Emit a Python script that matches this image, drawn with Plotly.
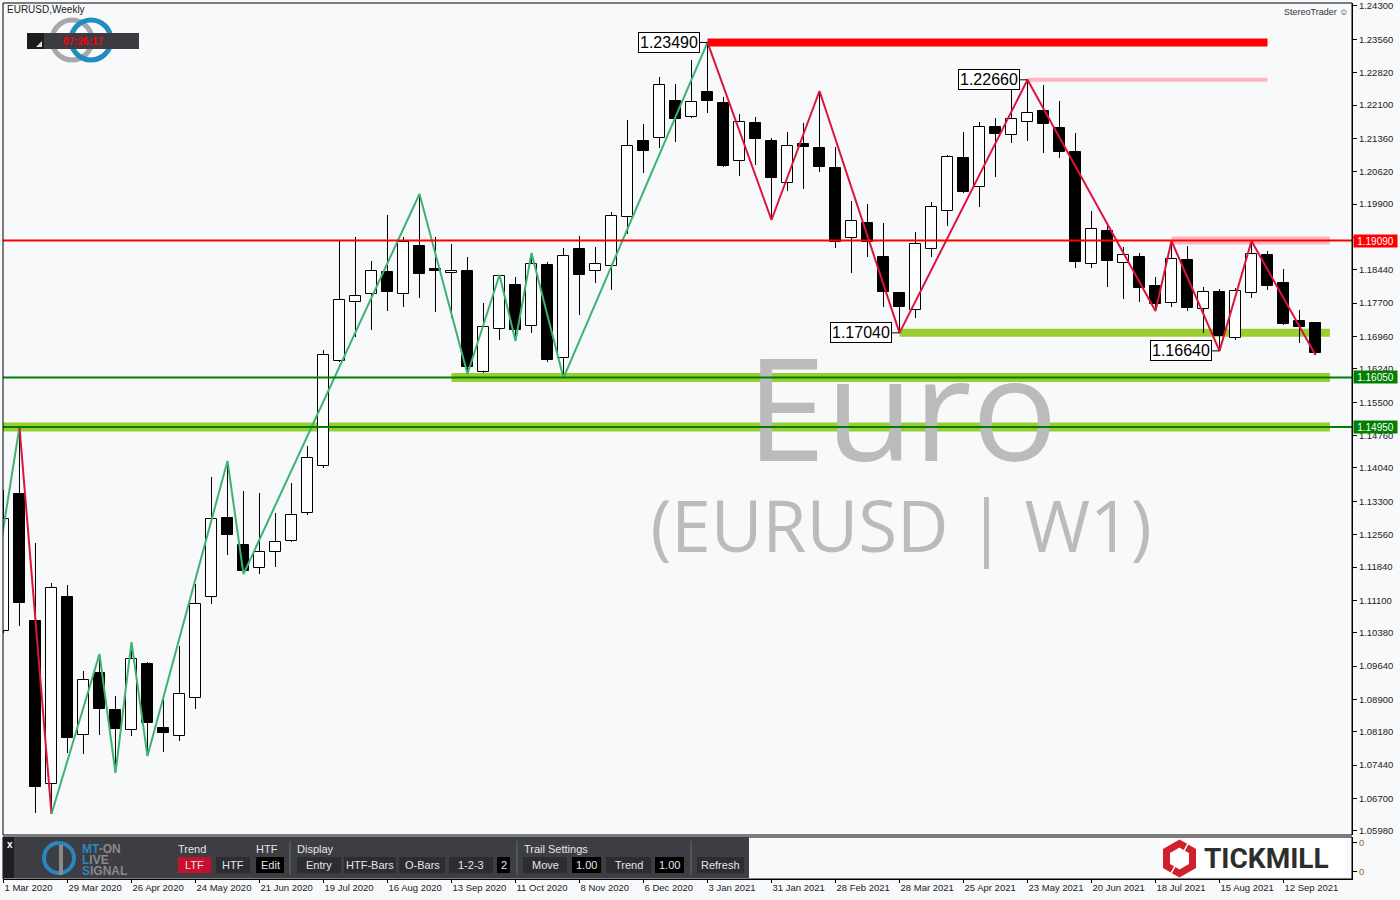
import plotly.graph_objects as go

# ---------------- data (weekly EURUSD, bar index 0 = week of 1 Mar 2020) ----------------
bar_index = list(range(83))
open_ = [1.10418, 1.13461, 1.10641, 1.07020, 1.11174, 1.08109, 1.09486, 1.08664, 1.08220, 1.09686,
         1.08264, 1.08086, 1.08930, 1.11174, 1.12928, 1.12329, 1.11818, 1.12173, 1.12417, 1.13039,
         1.14083, 1.16415, 1.17726, 1.17903, 1.18392, 1.17903, 1.18969, 1.18459, 1.18370, 1.18414,
         1.16171, 1.17126, 1.18103, 1.17193, 1.18547, 1.16482, 1.18903, 1.18414, 1.18525, 1.19613,
         1.21301, 1.21368, 1.22190, 1.21834, 1.22390, 1.22145, 1.20857, 1.21701, 1.21301, 1.20369,
         1.21235, 1.21146, 1.20702, 1.19147, 1.19480, 1.18725, 1.17925, 1.17548, 1.18903, 1.19747,
         1.20924, 1.20280, 1.21612, 1.21435, 1.21723, 1.21968, 1.21590, 1.21057, 1.18570, 1.19302,
         1.18592, 1.18725, 1.18081, 1.17703, 1.18658, 1.17570, 1.17948, 1.16926, 1.17925, 1.18769,
         1.18148, 1.17304, 1.17259]
high = [1.13550, 1.14950, 1.12373, 1.11485, 1.11440, 1.09530, 1.09908, 1.08975, 1.10174, 1.09730,
        1.08975, 1.10085, 1.11462, 1.13839, 1.14194, 1.13528, 1.13483, 1.13039, 1.13706, 1.14527,
        1.16659, 1.19103, 1.19169, 1.18636, 1.19658, 1.19169, 1.20124, 1.19169, 1.19014, 1.18725,
        1.17703, 1.18325, 1.18281, 1.18814, 1.18614, 1.18925, 1.19191, 1.18947, 1.19724, 1.21768,
        1.21679, 1.22723, 1.22567, 1.23100, 1.23490, 1.22279, 1.21901, 1.21834, 1.21368, 1.21501,
        1.21701, 1.22412, 1.21168, 1.19969, 1.19902, 1.19480, 1.17948, 1.19280, 1.19947, 1.20990,
        1.21501, 1.21723, 1.21812, 1.22479, 1.22660, 1.22545, 1.22190, 1.21479, 1.19747, 1.19458,
        1.18947, 1.18814, 1.18281, 1.19080, 1.18969, 1.18059, 1.18014, 1.18037, 1.19080, 1.18858,
        1.18459, 1.17548, 1.17270]
low = [1.10374, 1.10530, 1.06376, 1.06354, 1.07709, 1.07687, 1.08109, 1.07265, 1.08086, 1.07642,
       1.07731, 1.07975, 1.08686, 1.11018, 1.12106, 1.11684, 1.11684, 1.11840, 1.12395, 1.12995,
       1.14039, 1.16393, 1.16948, 1.17104, 1.17526, 1.17615, 1.17814, 1.17503, 1.17370, 1.16126,
       1.16149, 1.16882, 1.16859, 1.17037, 1.16393, 1.16038, 1.17437, 1.18148, 1.17992, 1.19236,
       1.20591, 1.21146, 1.21279, 1.21812, 1.21923, 1.20724, 1.20524, 1.20768, 1.19547, 1.20191,
       1.20235, 1.20613, 1.18925, 1.18370, 1.18725, 1.17615, 1.17040, 1.17370, 1.18725, 1.19414,
       1.20146, 1.19836, 1.20502, 1.21257, 1.21301, 1.21035, 1.20924, 1.18481, 1.18481, 1.18059,
       1.17792, 1.17726, 1.17526, 1.17615, 1.17526, 1.17037, 1.16640, 1.16882, 1.17814, 1.17992,
       1.17215, 1.16815, 1.16548]
close = [1.12906, 1.11040, 1.06954, 1.11374, 1.08042, 1.09330, 1.08686, 1.08242, 1.09797, 1.08375,
         1.08153, 1.09019, 1.11018, 1.12906, 1.12551, 1.11751, 1.12173, 1.12395, 1.12995, 1.14261,
         1.16548, 1.17770, 1.17859, 1.18414, 1.17948, 1.19058, 1.18347, 1.18414, 1.18414, 1.16282,
         1.17170, 1.18303, 1.17104, 1.18570, 1.16437, 1.18747, 1.18325, 1.18570, 1.19636, 1.21190,
         1.21079, 1.22545, 1.21790, 1.22168, 1.22190, 1.20746, 1.21723, 1.21346, 1.20480, 1.21190,
         1.21168, 1.20724, 1.19058, 1.19525, 1.19058, 1.17948, 1.17615, 1.19014, 1.19836, 1.20946,
         1.20169, 1.21612, 1.21457, 1.21790, 1.21923, 1.21679, 1.21057, 1.18614, 1.19347, 1.18636,
         1.18769, 1.18037, 1.17681, 1.18681, 1.17592, 1.17948, 1.16970, 1.17970, 1.18792, 1.18081,
         1.17237, 1.17170, 1.16593]

date_tick_bars = [0, 4, 8, 12, 16, 20, 24, 28, 32, 36, 40, 44, 48, 52, 56, 60, 64, 68, 72, 76, 80]
date_tick_labels = ["1 Mar 2020", "29 Mar 2020", "26 Apr 2020", "24 May 2020", "21 Jun 2020",
                    "19 Jul 2020", "16 Aug 2020", "13 Sep 2020", "11 Oct 2020", "8 Nov 2020",
                    "6 Dec 2020", "3 Jan 2021", "31 Jan 2021", "28 Feb 2021", "28 Mar 2021",
                    "25 Apr 2021", "23 May 2021", "20 Jun 2021", "18 Jul 2021", "15 Aug 2021",
                    "12 Sep 2021"]
price_ticks = [1.24300, 1.23560, 1.22820, 1.22100, 1.21360, 1.20620, 1.19900, 1.19160, 1.18440,
               1.17700, 1.16960, 1.16240, 1.15500, 1.14760, 1.14040, 1.13300, 1.12560, 1.11840,
               1.11100, 1.10380, 1.09640, 1.08900, 1.08180, 1.07440, 1.06700, 1.05980]

zz_green_a_bars = [-1, 1]
zz_green_a_prices = [1.10486, 1.14950]
zz_red_a_bars = [1, 3]
zz_red_a_prices = [1.14950, 1.06354]
zz_green_b_bars = [3, 6, 7, 8, 9, 14, 15, 26, 29, 31, 32, 33, 35, 44]
zz_green_b_prices = [1.06354, 1.09908, 1.07265, 1.10174, 1.07642, 1.14194, 1.11684, 1.20124,
                     1.16126, 1.18325, 1.16859, 1.18814, 1.16038, 1.23490]
zz_red_b_bars = [44, 48, 51, 56, 64, 72, 73, 76, 78, 82]
zz_red_b_prices = [1.23490, 1.19547, 1.22412, 1.17040, 1.22660, 1.17526, 1.19080, 1.16640,
                   1.19080, 1.16548]

pivot_label_bars = [44, 64, 56, 76]
pivot_label_prices = [1.23490, 1.22660, 1.17040, 1.16640]

level_prices = [1.19090, 1.16050, 1.14950]
level_colors = ["#FF0000", "#008000", "#008000"]

zone_prices = [1.23490, 1.22660, 1.19090, 1.17040, 1.16050, 1.14950]
zone_start = [44, 64, 73, 56, 28, -0.03]
zone_end = [79, 79, 82.9, 82.9, 82.9, 82.9]
zone_colors = ["#FF0000", "#FFB6C1", "#FFB6C1", "#9ACD32", "#9ACD32", "#9ACD32"]
zone_widths = [8, 4, 8, 8, 9, 9]

# ---------------- layout helpers (pixel -> paper) ----------------
PL, PR, PT, PB = 3, 1352, 3, 879
def px(x):
    return (x - PL) / (PR - PL)
def py(y):
    return (PB - y) / (PB - PT)

BG = "#F8F9FB"
FONT = "Liberation Sans"

fig = go.Figure()

# watermark (drawn first, under everything else in the scatter layer)
fig.add_trace(go.Scatter(x=[(902 - 3.5) / 16], y=[1.14980], mode="text", text=["Euro"],
                         textfont=dict(family="Open Sans", size=143, color="#BBBBBB"),
                         hoverinfo="skip", showlegend=False))
fig.add_trace(go.Scatter(x=[(901 - 3.5) / 16], y=[1.12573], mode="text", text=["(EURUSD | W1)"],
                         textfont=dict(family="Open Sans", size=71, color="#BBBBBB"),
                         hoverinfo="skip", showlegend=False))

# candle bodies
body_base = [min(o, c) for o, c in zip(open_, close)]
body_h = [max(abs(c - o), 0.00003) for o, c in zip(open_, close)]
body_col = ["#FFFFFF" if c >= o else "#000000" for o, c in zip(open_, close)]
fig.add_trace(go.Bar(x=bar_index, y=body_h, base=body_base, width=0.66,
                     marker=dict(color=body_col, line=dict(color="#000000", width=1)),
                     hoverinfo="skip", showlegend=False))

# wicks (upper and lower parts, outside the body)
wx, wy = [], []
for i, o, h, l, c in zip(bar_index, open_, high, low, close):
    top, bot = max(o, c), min(o, c)
    wx += [i, i, None, i, i, None]
    wy += [h, top, None, bot, l, None]
fig.add_trace(go.Scatter(x=wx, y=wy, mode="lines", line=dict(color="#000000", width=1),
                         hoverinfo="skip", showlegend=False))

# zigzag
for bx, pr, col in [(zz_green_a_bars, zz_green_a_prices, "#3CB371"),
                    (zz_red_a_bars, zz_red_a_prices, "#DC143C"),
                    (zz_green_b_bars, zz_green_b_prices, "#3CB371"),
                    (zz_red_b_bars, zz_red_b_prices, "#DC143C")]:
    fig.add_trace(go.Scatter(x=bx, y=pr, mode="lines", line=dict(color=col, width=2),
                             hoverinfo="skip", showlegend=False))

# dummy trace for the lower (indicator) panel
fig.add_trace(go.Scatter(x=[0], y=[0.5], yaxis="y2", mode="markers", marker=dict(opacity=0),
                         hoverinfo="skip", showlegend=False))

shapes = []
# zones (thick bands)
for lv, x0, x1, col, w in zip(zone_prices, zone_start, zone_end, zone_colors, zone_widths):
    shapes.append(dict(type="line", xref="x", yref="y", x0=x0, x1=x1, y0=lv, y1=lv,
                       line=dict(color=col, width=w), layer="below"))
# full width levels
for lv, col in zip(level_prices, level_colors):
    shapes.append(dict(type="line", xref="paper", yref="y", x0=0, x1=1, y0=lv, y1=lv,
                       line=dict(color=col, width=2), layer="above"))

def rect(x0, y0, x1, y1, fill, line=None, lw=0):
    return dict(type="rect", xref="paper", yref="paper", x0=px(x0), x1=px(x1),
                y0=py(y1), y1=py(y0), fillcolor=fill,
                line=dict(color=line if line else fill, width=lw), layer="above")

# frames
shapes.append(dict(type="rect", xref="paper", yref="paper", x0=0, x1=1, y0=py(835), y1=1,
                   line=dict(color="#000000", width=1), fillcolor="rgba(0,0,0,0)"))
shapes.append(dict(type="rect", xref="paper", yref="paper", x0=0, x1=1, y0=0, y1=py(837),
                   line=dict(color="#000000", width=1), fillcolor="rgba(0,0,0,0)"))

# top-left logo rings and clock box
shapes.append(dict(type="circle", xref="paper", yref="paper", x0=px(52), x1=px(92),
                   y0=py(60), y1=py(20), line=dict(color="#A8A8A8", width=5)))
shapes.append(dict(type="circle", xref="paper", yref="paper", x0=px(71), x1=px(111),
                   y0=py(60), y1=py(20), line=dict(color="#1E8DBF", width=5)))
shapes.append(rect(27, 33, 139, 49, "#3C3B42"))
shapes.append(rect(27, 33, 44, 49, "#1C1C1C"))
shapes.append(dict(type="path", xref="paper", yref="paper",
                   path="M {} {} L {} {} L {} {} Z".format(px(36), py(47), px(42), py(47), px(42), py(41)),
                   fillcolor="#DDDDDD", line=dict(width=0)))

# control panel
shapes.append(rect(3, 837, 749, 878, "#3D3D44"))
shapes.append(rect(3, 837, 14, 878, "#1E1E22"))
for xs in [290, 517, 691]:
    shapes.append(dict(type="line", xref="paper", yref="paper", x0=px(xs), x1=px(xs),
                       y0=py(841), y1=py(875), line=dict(color="#6A6A70", width=1)))
buttons = [(178, 211, "LTF", "#C8102E"), (216, 250, "HTF", "#2C2C31"), (256, 284, "Edit", "#000000"),
           (297, 341, "Entry", "#2C2C31"), (344, 396, "HTF-Bars", "#2C2C31"),
           (399, 445, "O-Bars", "#2C2C31"), (449, 493, "1-2-3", "#2C2C31"), (497, 510, "2", "#000000"),
           (523, 567, "Move", "#2C2C31"), (572, 601, "1.00", "#000000"), (606, 651, "Trend", "#2C2C31"),
           (655, 684, "1.00", "#000000"), (697, 744, "Refresh", "#2C2C31")]
for x0, x1, _, col in buttons:
    shapes.append(rect(x0, 857, x1, 873, col))
# MT-ON icon
shapes.append(dict(type="circle", xref="paper", yref="paper", x0=px(44), x1=px(74),
                   y0=py(873), y1=py(843), line=dict(color="#2A86BD", width=4)))
shapes.append(dict(type="line", xref="paper", yref="paper", x0=px(61), x1=px(61),
                   y0=py(875), y1=py(845), line=dict(color="#8A8A8A", width=4)))

# Tickmill logo
shapes.append(rect(1160, 838, 1345, 877, "#FFFFFF"))
cx, cy, r = 1179.5, 858.5, 15
hx = r * 0.866
def P(x, y):
    return "{:.5f} {:.5f}".format(px(x), py(y))
pathA = "M " + P(cx + hx * 0.45, cy - r + (r / 2) * 0.45) + " L " + P(cx, cy - r) + " L " + \
        P(cx - hx, cy - r / 2) + " L " + P(cx - hx, cy + r / 2) + " L " + \
        P(cx - hx * 0.55, cy + r / 2 + (r / 2) * 0.45)
pathB = "M " + P(cx - hx * 0.45, cy + r - (r / 2) * 0.45) + " L " + P(cx, cy + r) + " L " + \
        P(cx + hx, cy + r / 2) + " L " + P(cx + hx, cy - r / 2) + " L " + \
        P(cx + hx * 0.55, cy - r / 2 - (r / 2) * 0.45)
for pth in [pathA, pathB]:
    shapes.append(dict(type="path", xref="paper", yref="paper", path=pth,
                       line=dict(color="#D0202E", width=7)))

annotations = []
def txt(x, y, s, size, color, xanchor="left", family=FONT):
    annotations.append(dict(xref="paper", yref="paper", x=px(x), y=py(y), text=s, showarrow=False,
                            xanchor=xanchor, yanchor="middle",
                            font=dict(family=family, size=size, color=color)))

txt(5, 10, "EURUSD,Weekly", 10, "#222222")
txt(83, 41, "<b>07:26:17</b>", 10, "#FF0000", "center")
txt(1282, 12, "StereoTrader ☺", 9, "#333333")
txt(5, 844, "<b>x</b>", 10, "#FFFFFF")
txt(80, 849, "<b><span style='color:#2A86BD'>MT</span>-ON</b>", 12, "#8A8A8A")
txt(80, 860, "<b><span style='color:#2A86BD'>L</span>IVE</b>", 12, "#8A8A8A")
txt(80, 871, "<b><span style='color:#2A86BD'>S</span>IGNAL</b>", 12, "#8A8A8A")
for lbl, xx in [("Trend", 176), ("HTF", 254), ("Display", 295), ("Trail Settings", 522)]:
    txt(xx, 849, lbl, 11, "#E6E6E6")
for x0, x1, lbl, _ in buttons:
    txt((x0 + x1) / 2, 865, lbl, 11, "#E6E6E6", "center")
txt(1202, 858, "<b>TICKMILL</b>", 28, "#2D2D2D", "left", "Roboto")

# pivot labels
for b, p in zip(pivot_label_bars, pivot_label_prices):
    annotations.append(dict(x=b, y=p, xref="x", yref="y", text="{:.5f}".format(p),
                            showarrow=True, arrowhead=0, arrowwidth=1, arrowcolor="#000000",
                            ax=-39, ay=0, standoff=0, bgcolor="#FFFFFF", bordercolor="#000000",
                            borderwidth=1, borderpad=1,
                            font=dict(family=FONT, size=16, color="#000000")))

# price tags at the right axis
for lv, col in zip(level_prices, level_colors):
    annotations.append(dict(x=1, y=lv, xref="paper", yref="y", text="{:.5f}".format(lv),
                            showarrow=False, xanchor="left", xshift=1, yanchor="middle",
                            bgcolor=col, width=43, height=12, borderpad=0,
                            font=dict(family=FONT, size=10, color="#FFFFFF")))

fig.update_layout(
    width=1400, height=900,
    margin=dict(l=PL, r=1400 - PR, t=PT, b=900 - PB, autoexpand=False),
    paper_bgcolor=BG, plot_bgcolor=BG,
    showlegend=False, bargap=0,
    xaxis=dict(range=[-0.03, 84.28], anchor="y2", tickvals=date_tick_bars, ticktext=date_tick_labels,
               ticks="outside", ticklen=3, tickcolor="#000000", ticklabelposition="outside right",
               tickfont=dict(family=FONT, size=9.5, color="#222222"), automargin=False,
               showgrid=False, zeroline=False, showline=True, linecolor="#000000", linewidth=1),
    yaxis=dict(domain=[py(835), 1], range=[1.05888, 1.24366], side="right", anchor="x",
               tickvals=price_ticks, ticktext=["{:.5f}".format(v) for v in price_ticks],
               ticks="outside", ticklen=4, tickcolor="#000000", automargin=False,
               tickfont=dict(family=FONT, size=9.5, color="#222222"),
               showgrid=False, zeroline=False, showline=True, linecolor="#000000", linewidth=1),
    yaxis2=dict(domain=[0, py(837)], range=[0, 1], side="right", anchor="x",
                tickvals=[0.17, 0.86], ticktext=["0", "0"], ticks="outside", ticklen=4,
                tickcolor="#000000", tickfont=dict(family=FONT, size=9.5, color="#9A6A10"),
                automargin=False,
                showgrid=False, zeroline=False, showline=True, linecolor="#000000", linewidth=1),
    shapes=shapes, annotations=annotations,
)

fig.write_html("out.html", config={"displayModeBar": False},
               post_script="document.body.style.margin='0px';document.body.style.overflow='hidden';")
